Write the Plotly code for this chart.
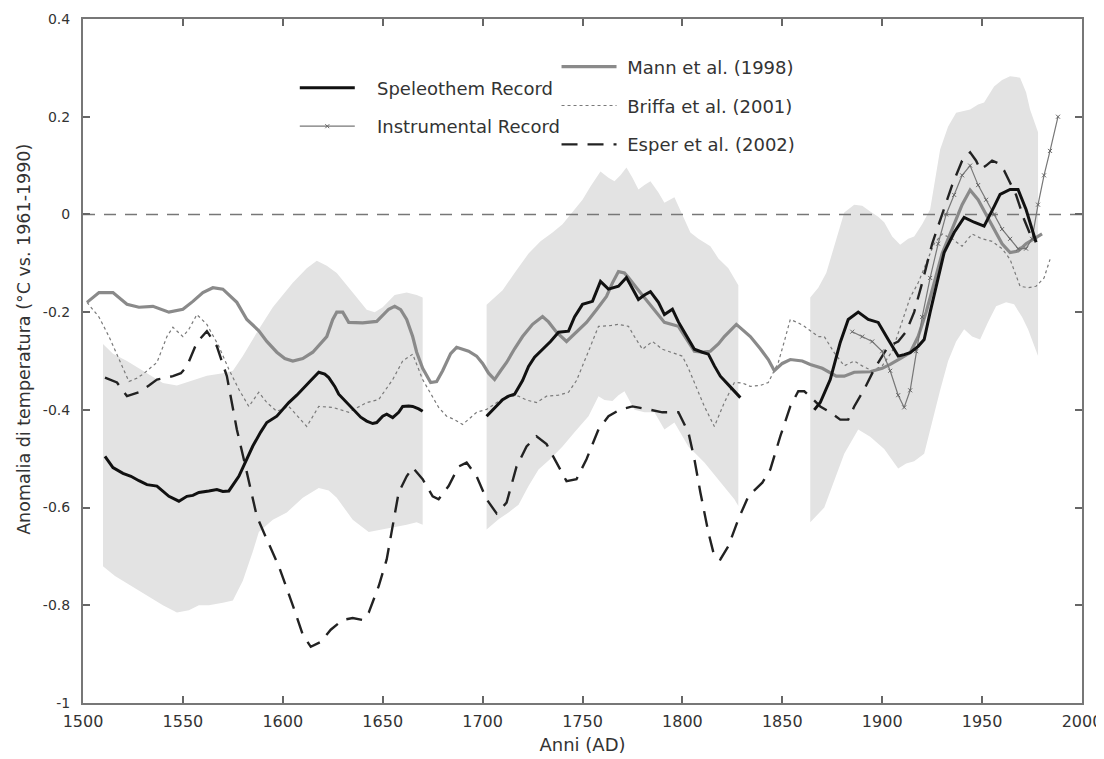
import plotly.graph_objects as go

# ---------------- data ----------------
band1_up_years = [1510, 1515, 1522, 1530, 1540, 1547, 1555, 1562, 1570, 1575, 1580, 1588, 1595, 1605, 1612, 1617, 1622, 1627, 1635, 1642, 1646, 1650, 1656, 1662, 1667, 1670]
band1_up = [-0.265, -0.285, -0.30, -0.32, -0.345, -0.35, -0.34, -0.33, -0.325, -0.32, -0.29, -0.235, -0.19, -0.14, -0.11, -0.095, -0.105, -0.12, -0.16, -0.195, -0.20, -0.19, -0.165, -0.16, -0.165, -0.17]
band1_lo_years = [1510, 1516, 1522, 1530, 1540, 1547, 1553, 1558, 1563, 1570, 1575, 1580, 1585, 1588, 1595, 1602, 1610, 1618, 1623, 1627, 1635, 1643, 1650, 1655, 1662, 1667, 1670]
band1_lo = [-0.72, -0.74, -0.755, -0.775, -0.80, -0.815, -0.81, -0.80, -0.80, -0.795, -0.79, -0.75, -0.69, -0.65, -0.625, -0.61, -0.58, -0.56, -0.565, -0.58, -0.625, -0.65, -0.645, -0.64, -0.635, -0.63, -0.635]

band2_up_years = [1702, 1706, 1710, 1716, 1723, 1729, 1735, 1740, 1745, 1750, 1754, 1759, 1763, 1766, 1769, 1772, 1775, 1778, 1781, 1784, 1788, 1791, 1796, 1800, 1804, 1808, 1814, 1818, 1823, 1828]
band2_up = [-0.185, -0.17, -0.155, -0.12, -0.08, -0.055, -0.037, -0.02, 0.004, 0.03, 0.057, 0.088, 0.075, 0.068, 0.08, 0.096, 0.075, 0.051, 0.06, 0.068, 0.045, 0.024, 0.035, 0.0, -0.037, -0.05, -0.065, -0.09, -0.11, -0.145]
band2_lo_years = [1702, 1708, 1713, 1718, 1723, 1728, 1734, 1740, 1746, 1753, 1758, 1761, 1765, 1768, 1771, 1776, 1781, 1786, 1791, 1796, 1803, 1811, 1819, 1826, 1828]
band2_lo = [-0.645, -0.624, -0.61, -0.594, -0.556, -0.522, -0.50, -0.475, -0.446, -0.413, -0.372, -0.38, -0.382, -0.37, -0.362, -0.40, -0.405, -0.405, -0.44, -0.426, -0.475, -0.508, -0.549, -0.583, -0.597]

band3_up_years = [1864, 1868, 1872, 1877, 1881, 1886, 1890, 1894, 1898, 1901, 1905, 1909, 1913, 1916, 1920, 1924, 1927, 1929, 1933, 1937, 1944, 1948, 1951, 1956, 1960, 1964, 1969, 1972, 1974, 1978]
band3_up = [-0.17, -0.15, -0.12, -0.05, 0.004, 0.02, 0.018, 0.006, -0.005, -0.016, -0.045, -0.062, -0.05, -0.045, -0.02, 0.01, 0.08, 0.133, 0.18, 0.208, 0.215, 0.225, 0.229, 0.262, 0.275, 0.283, 0.28, 0.25, 0.215, 0.168]
band3_lo_years = [1864, 1871, 1876, 1881, 1888, 1894, 1901, 1908, 1912, 1916, 1921, 1924, 1929, 1933, 1937, 1941, 1945, 1949, 1953, 1957, 1962, 1966, 1970, 1973, 1978]
band3_lo = [-0.63, -0.60, -0.545, -0.49, -0.44, -0.455, -0.48, -0.52, -0.51, -0.505, -0.49, -0.44, -0.36, -0.30, -0.26, -0.235, -0.25, -0.256, -0.22, -0.188, -0.18, -0.184, -0.21, -0.235, -0.29]

speleo1_years = [1511, 1515, 1520, 1524, 1528, 1532, 1537, 1540, 1543, 1548, 1552, 1555, 1558, 1563, 1567, 1570, 1573, 1578, 1582, 1585, 1589, 1592, 1597, 1600, 1603, 1607, 1610, 1614, 1618, 1621, 1623, 1626, 1628, 1632, 1635, 1639, 1642, 1645, 1647, 1650, 1652, 1655, 1658, 1660, 1663, 1665, 1668, 1670]
speleo1 = [-0.495, -0.518, -0.53, -0.536, -0.545, -0.553, -0.556, -0.567, -0.577, -0.587, -0.577, -0.575, -0.569, -0.566, -0.563, -0.567, -0.566, -0.536, -0.50, -0.474, -0.445, -0.426, -0.413, -0.398, -0.385, -0.37, -0.358, -0.34, -0.323, -0.327, -0.334, -0.352, -0.368, -0.385, -0.399, -0.415, -0.423, -0.428, -0.426, -0.413, -0.409, -0.416, -0.405, -0.393, -0.392, -0.393, -0.398, -0.403]
speleo2_years = [1702, 1706, 1710, 1713, 1716, 1720, 1723, 1726, 1730, 1734, 1738, 1743, 1746, 1750, 1755, 1759, 1763, 1768, 1772, 1775, 1778, 1781, 1784, 1788, 1791, 1795, 1798, 1801, 1806, 1810, 1813, 1816, 1819, 1824, 1829]
speleo2 = [-0.413, -0.395, -0.379, -0.372, -0.368, -0.34, -0.311, -0.292, -0.276, -0.26, -0.241, -0.239, -0.21, -0.184, -0.178, -0.137, -0.153, -0.147, -0.129, -0.15, -0.174, -0.165, -0.158, -0.18, -0.205, -0.194, -0.22, -0.241, -0.276, -0.282, -0.286, -0.31, -0.331, -0.353, -0.375]
speleo3_years = [1866, 1869, 1874, 1879, 1883, 1888, 1893, 1898, 1903, 1908, 1911, 1914, 1918, 1921, 1924, 1928, 1931, 1936, 1941, 1946, 1951, 1956, 1959, 1964, 1968, 1972, 1977]
speleo3 = [-0.40, -0.385, -0.338, -0.262, -0.215, -0.20, -0.215, -0.221, -0.256, -0.29, -0.287, -0.283, -0.27, -0.256, -0.20, -0.13, -0.078, -0.037, -0.006, -0.016, -0.024, 0.016, 0.041, 0.051, 0.051, 0.01, -0.057]

instr_years = [1885, 1890, 1895, 1900, 1904, 1908, 1911, 1914, 1917, 1920, 1924, 1928, 1932, 1936, 1940, 1944, 1948, 1952, 1956, 1960, 1964, 1968, 1972, 1975, 1978, 1981, 1984, 1988]
instr = [-0.24, -0.25, -0.26, -0.28, -0.32, -0.37, -0.395, -0.36, -0.28, -0.21, -0.13, -0.06, 0.0, 0.04, 0.08, 0.10, 0.06, 0.03, 0.0, -0.03, -0.05, -0.07, -0.07, -0.05, 0.02, 0.08, 0.13, 0.2]

mann_years = [1502, 1508, 1515, 1522, 1528, 1535, 1543, 1550, 1555, 1560, 1565, 1570, 1577, 1582, 1588, 1592, 1597, 1601, 1605, 1610, 1615, 1619, 1622, 1625, 1627, 1630, 1633, 1640, 1647, 1653, 1656, 1659, 1662, 1665, 1667, 1670, 1674, 1677, 1680, 1684, 1687, 1690, 1693, 1697, 1700, 1703, 1706, 1709, 1712, 1716, 1720, 1725, 1730, 1733, 1737, 1742, 1747, 1752, 1757, 1762, 1765, 1768, 1771, 1773, 1777, 1781, 1786, 1791, 1798, 1802, 1806, 1810, 1814, 1818, 1821, 1827, 1831, 1834, 1839, 1843, 1846, 1850, 1854, 1860, 1864, 1870, 1877, 1881, 1886, 1894, 1900, 1904, 1909, 1914, 1918, 1922, 1926, 1930, 1935, 1940, 1944, 1948, 1952, 1956, 1960, 1964, 1968, 1972, 1976, 1980]
mann = [-0.18, -0.16, -0.16, -0.184, -0.19, -0.188, -0.20, -0.194, -0.178, -0.16, -0.15, -0.153, -0.18, -0.215, -0.238, -0.26, -0.282, -0.295, -0.30, -0.295, -0.282, -0.265, -0.25, -0.215, -0.20, -0.20, -0.221, -0.222, -0.219, -0.194, -0.188, -0.195, -0.215, -0.25, -0.282, -0.315, -0.344, -0.342, -0.32, -0.285, -0.272, -0.276, -0.28, -0.29, -0.305, -0.325, -0.338, -0.32, -0.303, -0.275, -0.25, -0.225, -0.209, -0.22, -0.241, -0.26, -0.24, -0.221, -0.195, -0.168, -0.14, -0.117, -0.12, -0.129, -0.15, -0.17, -0.195, -0.221, -0.229, -0.255, -0.28, -0.282, -0.28, -0.265, -0.25, -0.225, -0.24, -0.25, -0.275, -0.297, -0.32, -0.305, -0.297, -0.30, -0.307, -0.315, -0.331, -0.331, -0.323, -0.322, -0.315, -0.307, -0.295, -0.283, -0.25, -0.20, -0.14, -0.08, -0.03, 0.02, 0.05, 0.03, 0.0, -0.03, -0.06, -0.078, -0.075, -0.06, -0.05, -0.04]

briffa_years = [1502, 1508, 1513, 1518, 1523, 1527, 1530, 1537, 1542, 1545, 1550, 1553, 1557, 1562, 1568, 1573, 1578, 1583, 1588, 1592, 1597, 1603, 1608, 1612, 1618, 1625, 1633, 1642, 1648, 1655, 1660, 1665, 1670, 1675, 1678, 1682, 1686, 1690, 1693, 1697, 1702, 1707, 1712, 1718, 1722, 1727, 1732, 1738, 1743, 1747, 1750, 1754, 1758, 1763, 1768, 1773, 1776, 1780, 1785, 1790, 1795, 1800, 1803, 1806, 1811, 1816, 1821, 1826, 1830, 1834, 1839, 1843, 1848, 1851, 1854, 1858, 1861, 1868, 1871, 1876, 1881, 1886, 1890, 1895, 1900, 1905, 1910, 1914, 1918, 1922, 1926, 1930, 1935, 1940, 1945, 1950, 1955, 1960, 1964, 1969, 1973, 1977, 1981, 1984]
briffa = [-0.18, -0.21, -0.25, -0.297, -0.342, -0.335, -0.327, -0.303, -0.25, -0.231, -0.25, -0.235, -0.205, -0.225, -0.27, -0.317, -0.358, -0.393, -0.364, -0.385, -0.403, -0.393, -0.415, -0.434, -0.393, -0.395, -0.405, -0.385, -0.379, -0.338, -0.30, -0.286, -0.338, -0.372, -0.395, -0.413, -0.42, -0.43, -0.42, -0.405, -0.399, -0.385, -0.372, -0.372, -0.38, -0.385, -0.372, -0.37, -0.364, -0.34, -0.311, -0.27, -0.229, -0.228, -0.225, -0.229, -0.25, -0.276, -0.26, -0.276, -0.283, -0.29, -0.315, -0.344, -0.393, -0.434, -0.385, -0.344, -0.345, -0.352, -0.35, -0.344, -0.303, -0.26, -0.215, -0.222, -0.229, -0.25, -0.25, -0.283, -0.31, -0.30, -0.31, -0.32, -0.31, -0.28, -0.22, -0.17, -0.14, -0.10, -0.06, -0.04, -0.05, -0.065, -0.04, -0.05, -0.055, -0.07, -0.092, -0.147, -0.15, -0.147, -0.13, -0.092]

esper_years = [1511, 1517, 1522, 1528, 1533, 1537, 1545, 1549, 1552, 1557, 1562, 1567, 1572, 1577, 1582, 1587, 1592, 1598, 1605, 1610, 1614, 1619, 1624, 1630, 1635, 1640, 1643, 1648, 1652, 1655, 1658, 1662, 1665, 1670, 1675, 1678, 1683, 1688, 1692, 1697, 1702, 1707, 1712, 1717, 1722, 1727, 1732, 1737, 1742, 1747, 1752, 1758, 1763, 1769, 1775, 1783, 1790, 1798, 1803, 1806, 1809, 1813, 1816, 1819, 1823, 1828, 1833, 1840, 1844, 1849, 1854, 1858, 1861, 1864, 1869, 1874, 1879, 1883, 1886, 1891, 1896, 1903, 1908, 1912, 1916, 1920, 1925, 1930, 1935, 1940, 1944, 1947, 1949, 1952, 1955, 1958, 1961, 1964, 1967, 1971, 1975]
esper = [-0.334, -0.344, -0.372, -0.364, -0.35, -0.338, -0.331, -0.325, -0.311, -0.262, -0.239, -0.27, -0.331, -0.44, -0.528, -0.618, -0.665, -0.72, -0.80, -0.86, -0.885, -0.875, -0.85, -0.83, -0.826, -0.83, -0.815, -0.761, -0.706, -0.638, -0.569, -0.536, -0.518, -0.542, -0.577, -0.583, -0.556, -0.516, -0.508, -0.536, -0.583, -0.612, -0.59, -0.516, -0.475, -0.454, -0.47, -0.508, -0.546, -0.542, -0.501, -0.44, -0.413, -0.399, -0.393, -0.399, -0.405, -0.405, -0.446, -0.501, -0.569, -0.651, -0.70, -0.706, -0.679, -0.624, -0.577, -0.549, -0.522, -0.454, -0.393, -0.362, -0.362, -0.373, -0.393, -0.405, -0.42, -0.42, -0.393, -0.358, -0.317, -0.27, -0.26, -0.24, -0.20, -0.14, -0.06, 0.0, 0.06, 0.11, 0.127, 0.11, 0.092, 0.10, 0.11, 0.105, 0.09, 0.065, 0.04, -0.01, -0.05]

x_ticks = [1500, 1550, 1600, 1650, 1700, 1750, 1800, 1850, 1900, 1950, 2000]
y_ticks = [0.4, 0.2, 0, -0.2, -0.4, -0.6, -0.8, -1]
y_tick_text = ["0.4", "0.2", "0", "-0.2", "-0.4", "-0.6", "-0.8", "-1"]

# ---------------- figure ----------------
FONT = "DejaVu Sans"
NB = "\u00a0"
fig = go.Figure()

bands = [(band1_up_years, band1_up, band1_lo_years, band1_lo),
         (band2_up_years, band2_up, band2_lo_years, band2_lo),
         (band3_up_years, band3_up, band3_lo_years, band3_lo)]
for uy, uv, ly, lv in bands:
    fig.add_trace(go.Scatter(
        x=list(uy) + list(reversed(ly)), y=list(uv) + list(reversed(lv)),
        fill="toself", fillcolor="#e3e3e3", mode="lines", line=dict(width=0, color="#e3e3e3"),
        showlegend=False, hoverinfo="skip"))

# zero reference line
fig.add_trace(go.Scatter(x=[x_ticks[0], x_ticks[-1]], y=[0, 0], mode="lines",
                         line=dict(color="#777777", width=1.5, dash="12px,9px"),
                         showlegend=False, hoverinfo="skip"))

fig.add_trace(go.Scatter(x=briffa_years, y=briffa, mode="lines", name=NB + "Briffa et al. (2001)",
                         line=dict(color="#7a7a7a", width=1.2, dash="dot"),
                         legend="legend2", legendgroup="b", legendrank=2))
fig.add_trace(go.Scatter(x=mann_years, y=mann, mode="lines", name=NB + "Mann et al. (1998)",
                         line=dict(color="#8a8a8a", width=3.2),
                         legend="legend2", legendgroup="m", legendrank=1))
fig.add_trace(go.Scatter(x=esper_years, y=esper, mode="lines", name=NB + "Esper et al. (2002)",
                         line=dict(color="#222222", width=2.4, dash="16px,10px"),
                         legend="legend2", legendgroup="e", legendrank=3))
fig.add_trace(go.Scatter(x=instr_years, y=instr, mode="lines+markers", name=NB * 3 + "Instrumental Record",
                         line=dict(color="#777777", width=1.2),
                         marker=dict(symbol="x-thin", size=4, line=dict(color="#666666", width=1)),
                         legend="legend", legendgroup="i", legendrank=2))
for i, (yy, vv) in enumerate([(speleo1_years, speleo1), (speleo2_years, speleo2), (speleo3_years, speleo3)]):
    fig.add_trace(go.Scatter(x=yy, y=vv, mode="lines", name=NB * 3 + "Speleothem Record",
                             line=dict(color="#111111", width=3),
                             legend="legend", legendgroup="s", legendrank=1,
                             showlegend=(i == 0)))

legend_common = dict(xanchor="left", yanchor="top", bgcolor="rgba(0,0,0,0)",
                     font=dict(family=FONT, size=18, color="#333333"), itemwidth=55)

# page body has a small margin: figure is sized so the whole chart fits the 1104x759 window
fig.update_layout(
    width=1096, height=751,
    margin=dict(l=75, r=22, t=11, b=56, autoexpand=False),
    paper_bgcolor="white", plot_bgcolor="white",
    font=dict(family=FONT, color="#333333"),
    legend=dict(x=0.212, y=0.926, tracegroupgap=12, **legend_common),
    legend2=dict(x=0.474, y=0.957, tracegroupgap=12.5, **legend_common),
    xaxis=dict(range=[1500, 2000], tickvals=x_ticks, ticks="inside", ticklen=7,
               tickcolor="#666666", tickwidth=1.5, showline=True, linecolor="#777777",
               linewidth=2, mirror="ticks", showgrid=False, zeroline=False, automargin=False,
               ticklabeloverflow="allow", ticklabelstandoff=3,
               tickfont=dict(family=FONT, size=16, color="#333333"),
               title=dict(text="Anni (AD)", font=dict(family=FONT, size=18, color="#333333"), standoff=8)),
    yaxis=dict(range=[-1, 0.4], tickvals=y_ticks, ticktext=y_tick_text, ticks="inside", ticklen=7,
               tickcolor="#666666", tickwidth=1.5, showline=True, linecolor="#777777",
               linewidth=2, mirror="ticks", showgrid=False, zeroline=False, automargin=False,
               ticklabelstandoff=8,
               tickfont=dict(family=FONT, size=14, color="#333333")),
    annotations=[dict(text="Anomalia di temperatura (°C vs. 1961-1990)", textangle=-90,
                      xref="paper", yref="paper", x=-0.059, y=0.531,
                      xanchor="center", yanchor="middle", showarrow=False,
                      font=dict(family=FONT, size=17.5, color="#333333"))],
)

fig.write_html("out.html")
